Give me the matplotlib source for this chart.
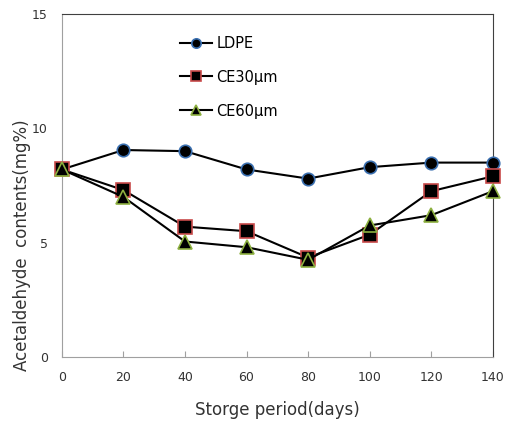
import matplotlib.pyplot as plt

# storage days and acetaldehyde contents (mg%)
days = [0, 20, 40, 60, 80, 100, 120, 140]
ldpe = [8.2, 9.05, 9.0, 8.2, 7.8, 8.3, 8.5, 8.5]
ce30 = [8.2, 7.3, 5.7, 5.5, 4.35, 5.35, 7.25, 7.9]
ce60 = [8.2, 7.0, 5.05, 4.8, 4.25, 5.75, 6.2, 7.25]

plt.rcParams['font.family'] = ['DejaVu Sans']

fig = plt.figure(figsize=(5.07, 4.22), dpi=100)
ax = fig.add_axes([0.122, 0.154, 0.85, 0.813])

ax.plot(days, ldpe, '-o', color='black', lw=1.5, ms=9,
        mfc='black', mec='#3a6fb0', mew=1.2, label='LDPE', clip_on=False, zorder=3)
ax.plot(days, ce30, '-s', color='black', lw=1.5, ms=10,
        mfc='black', mec='#c84a4a', mew=1.2, label='CE30\u03bcm', clip_on=False, zorder=3)
ax.plot(days, ce60, '-^', color='black', lw=1.5, ms=10,
        mfc='black', mec='#8db040', mew=1.2, label='CE60\u03bcm', clip_on=False, zorder=3)

ax.set_xlim(0, 140)
ax.set_ylim(0, 15)
ax.set_xticks(days)
ax.set_yticks([0, 5, 10, 15])

for s in ['left', 'bottom']:
    ax.spines[s].set_color('#a0a0a0')
for s in ['top', 'right']:
    ax.spines[s].set_color('#404040')

ax.tick_params(axis='x', direction='in', length=4, color='#a0a0a0',
               labelsize=9, labelcolor='#333333', pad=10)
ax.tick_params(axis='y', length=0, labelsize=9, labelcolor='#333333', pad=10)

ax.set_xlabel('Storge period(days)', fontsize=12, color='#333333')
ax.xaxis.set_label_coords(0.5, -0.128)
ax.set_ylabel('Acetaldehyde  contents(mg%)', fontsize=12, color='#333333')
ax.yaxis.set_label_coords(-0.072, 0.327)

ax.legend(loc='upper left', bbox_to_anchor=(0.244, 0.975), frameon=False,
          fontsize=10.5, handlelength=2.2, labelspacing=1.3, handletextpad=0.3,
          markerscale=0.75)

plt.savefig('out.png', dpi=100)
plt.close()
